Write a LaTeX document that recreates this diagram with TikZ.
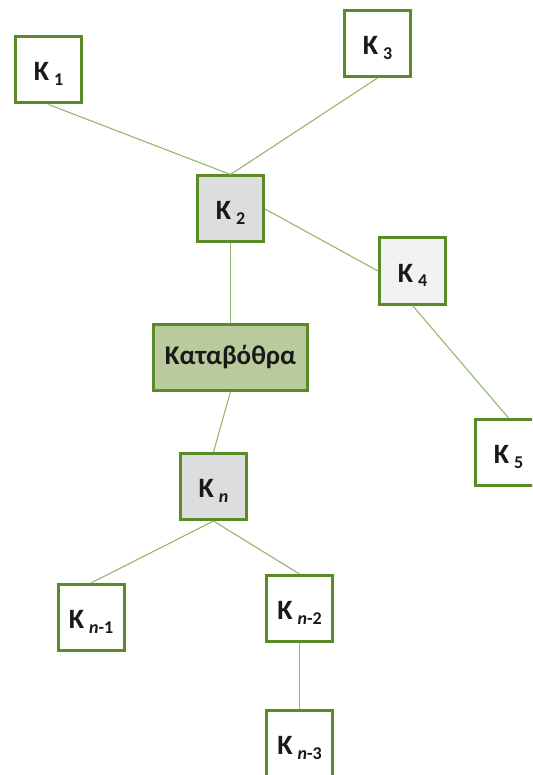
\documentclass[tikz,border=0pt]{standalone}
\usepackage{fontspec}
\setmainfont{Carlito}
\definecolor{bordergreen}{HTML}{5B8A2A}
\definecolor{linegreen}{HTML}{93B86A}
\definecolor{midgray}{HTML}{DCDDDF}
\definecolor{lightgray}{HTML}{F1F2F4}
\definecolor{sinkgreen}{HTML}{B9CA9C}
\newcommand{\lbl}[1]{K\hspace{5pt}\raisebox{-5pt}{\fontsize{18}{18}\selectfont #1}}
\tikzset{
  cave/.style={draw=bordergreen, line width=3pt, fill=white, minimum width=66pt, minimum height=66pt,
    inner sep=0pt, font=\fontsize{28}{28}\selectfont\bfseries, text=black!90,
    text height=22pt, text depth=0pt},
  sink/.style={cave, fill=sinkgreen, minimum width=154pt, font=\fontsize{27}{27}\selectfont\bfseries,
    text height=, text depth=},
  link/.style={draw=linegreen, line width=1.1pt}
}
\begin{document}
\begin{tikzpicture}[x=1pt,y=-1pt]
\useasboundingbox (0,0) rectangle (532,775);
\clip (0,0) rectangle (532,775);
\node[cave] (k1) at (48.5,70) {\lbl{1}};
\node[cave] (k3) at (377.5,43.5) {\lbl{3}};
\node[cave, fill=midgray] (k2) at (230.5,209) {\lbl{2}};
\node[cave, fill=lightgray] (k4) at (412.5,271) {\lbl{4}};
\node[sink] (kat) at (230.5,357) {Καταβόθρα};
\node[cave, fill=midgray] (kn) at (213.5,486.5) {\lbl{\textit{n}}};
\node[cave] (k5) at (508.5,452.5) {\lbl{5}};
\node[cave] (kn1) at (91,617.5) {\lbl{\textit{n}-1}};
\node[cave] (kn2) at (299.5,608.5) {\lbl{\textit{n}-2}};
\node[cave] (kn3) at (299.5,743.5) {\lbl{\textit{n}-3}};
\draw[link] (k1.south) -- (k2.north);
\draw[link] (k3.south) -- (k2.north);
\draw[link] (k2.east) -- (k4.west);
\draw[link] (k2.south) -- (kat.north);
\draw[link] (kat.south) -- (kn.north);
\draw[link] (k4.south) -- (k5.north);
\draw[link] (kn.south) -- (kn1.north);
\draw[link] (kn.south) -- (kn2.north);
\draw[link] (kn2.south) -- (kn3.north);
\end{tikzpicture}
\end{document}
